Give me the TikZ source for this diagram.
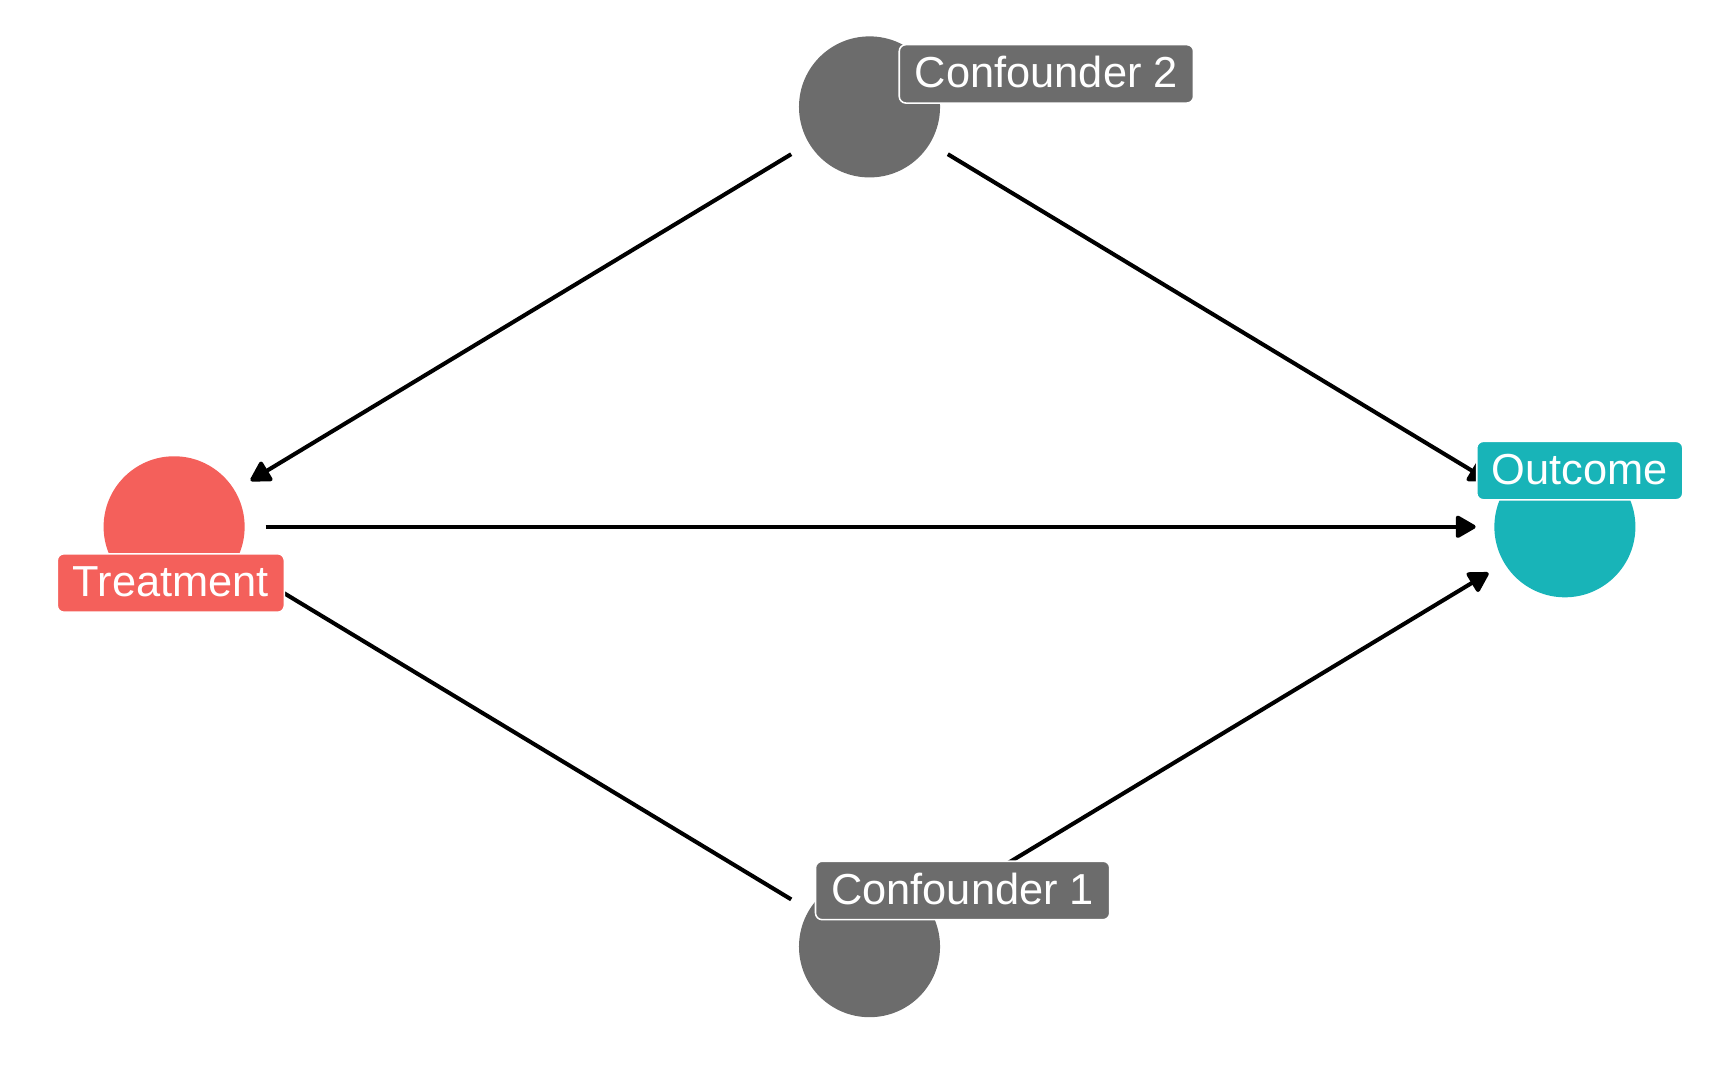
\documentclass[tikz,border=0pt]{standalone}
\usepackage{fontspec}
\setmainfont{Liberation Sans}
\usetikzlibrary{arrows.meta}
\definecolor{cgrey}{HTML}{6C6C6C}
\definecolor{cred}{HTML}{F4605B}
\definecolor{cteal}{HTML}{18B4B8}
\begin{document}
\begin{tikzpicture}[x=0.1mm,y=-0.1mm,
  dot/.style={circle,minimum size=12.8mm,inner sep=0pt,draw=none},
  lab/.style={rounded corners=0.6mm,draw=white,line width=0.4pt,text=white,
    font=\fontsize{11.2}{13}\selectfont,inner xsep=1.3mm,inner ysep=0pt,
    text height=0.716em,text depth=0pt,minimum height=5.3mm},
  edge/.style={line width=1.05pt,shorten <=8.3mm,shorten >=8.1mm,
    -{Triangle[length=2.0mm,width=2.2mm,round]}}]
\useasboundingbox (0,0) rectangle (1568,968);
\node[dot,fill=cgrey] (c2) at (789,97) {};
\node[dot,fill=cred] (tr) at (158,478) {};
\node[dot,fill=cteal] (out) at (1420,478) {};
\node[dot,fill=cgrey] (c1) at (789,859) {};
\draw[edge] (c2.center) -- (tr.center);
\draw[edge] (c2.center) -- (out.center);
\draw[edge] (tr.center) -- (out.center);
\draw[edge] (c1.center) -- (tr.center);
\draw[edge] (c1.center) -- (out.center);
\node[lab,fill=cgrey,minimum width=26.7mm] (c2l) at (949.5,67) {Confounder 2};
\node[lab,fill=cred,minimum width=20.6mm] (trl) at (155,529) {Treatment};
\node[lab,fill=cteal,minimum width=18.7mm] (outl) at (1433.5,427) {Outcome};
\node[lab,fill=cgrey,minimum width=26.7mm] (c1l) at (873.5,808) {Confounder 1};
\end{tikzpicture}
\end{document}
